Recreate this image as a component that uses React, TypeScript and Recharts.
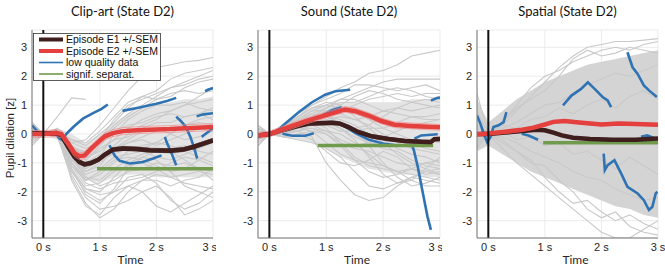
import { ComposedChart, Line, Area, XAxis, YAxis, CartesianGrid, ReferenceLine } from 'recharts';

// shared axes
const gridTimes = [-0.2, 0, 0.25, 0.5, 0.75, 1, 1.25, 1.5, 1.75, 2, 2.25, 2.5, 2.75, 3];
const timeTicks = [0, 1, 2, 3];
const timeTickLabels = ['0 s', '1 s', '2 s', '3 s'];
const valueTicks = [-3, -2, -1, 0, 1, 2, 3];
const titles = ['Clip-art (State D2)', 'Sound (State D2)', 'Spatial (State D2)'];
const legendLabels = ['Episode E1 +/-SEM', 'Episode E2 +/-SEM', 'low quality data', 'signif. separat.'];

type Pt = [number, number];

// ---- Clip-art ----
const clipCoreLow = [-0.2, -0.05, -0.2, -1.0, -1.6, -1.7, -1.5, -1.4, -1.4, -1.5, -1.5, -1.5, -1.5, -1.5];
const clipCoreHigh = [0.2, 0.05, 0.2, 0.0, -0.3, 0.0, 0.4, 0.7, 0.9, 1.0, 1.1, 1.2, 1.2, 1.3];
const clipGray: (number | null)[][] = [
  [0.3, 0, 0.05, -0.3, -0.2, 0.3, 0.9, 1.5, 2.0, 2.3, 2.4, 2.5, 2.55, 2.65],
  [-0.2, 0, 0.1, -0.5, -0.6, -0.2, 0.3, 0.7, 1.0, 1.3, 1.6, 1.8, 2.0, 2.2],
  [0.1, 0, 0.1, -0.8, -1.2, -0.9, -0.4, 0.0, 0.3, 0.5, 0.8, 1.0, 1.3, 1.6],
  [0.4, 0, 0.05, -1.2, -1.9, -2.0, -1.5, -1.0, -0.8, -0.9, -1.3, -1.8, -2.0, -2.2],
  [-0.4, 0, -0.1, -1.5, -2.4, -2.9, -2.6, -2.0, -1.6, -1.4, -1.5, -1.7, -1.8, -1.9],
  [0.2, 0, 0.0, -1.0, -1.6, -1.4, -1.0, -0.6, -0.4, -0.3, -0.4, -0.6, -0.8, -1.0],
  [-0.1, 0, 0.2, -0.4, -0.8, -0.6, -0.2, 0.2, 0.5, 0.7, 0.8, 1.0, 1.1, 1.2],
  [0.0, 0, 0.0, -1.3, -2.0, -2.3, -2.0, -1.5, -1.4, -1.7, -2.3, -2.6, -2.4, -2.0],
  [0.2, 0, 0.6, 1.25, 1.2, null, null, null, null, null, null, null, null, null],
  [-0.3, 0, -0.1, -0.7, -1.0, -0.7, -0.5, -0.3, -0.1, 0.1, 0.2, 0.3, 0.5, 0.6],
  [0.1, 0, 0.1, -0.9, -1.4, -1.2, -0.8, -0.7, -0.6, -0.8, -0.9, -0.7, -0.5, -0.3],
  [0.3, 0, -0.1, -1.1, -1.8, -1.7, -1.3, -1.1, -1.0, -1.2, -1.5, -1.4, -1.3, -1.4],
  [0.0, 0, 0.05, -0.6, -1.1, -0.8, 0.0, 0.5, 0.8, 1.0, 1.0, 1.1, 0.9, 0.8],
  [-0.2, 0, 0.0, -1.4, -2.2, -2.6, -2.5, -2.3, -2.0, -1.8, -2.2, -2.8, -2.6, -2.3],
  [0.1, 0, 0.1, -0.3, -0.5, -0.3, 0.2, 0.6, 0.9, 1.2, 1.4, 1.5, 1.4, 1.5],
  [0.2, 0, 0.0, -0.9, -1.3, -1.0, -0.6, -0.3, -0.2, -0.4, -0.2, 0.0, 0.2, 0.1],
  [-0.1, 0, 0.1, -0.5, -0.9, -0.5, -0.2, -0.1, 0.2, 0.4, 0.4, 0.6, 0.7, 0.9],
  [0.4, 0, 0.0, -1.0, -1.5, -1.8, -1.6, -1.3, -1.2, -1.0, -1.1, -1.0, -1.2, -1.6],
  [-0.3, 0, 0.1, -0.2, -0.4, 0.0, 0.4, 0.9, 1.3, 1.5, 1.9, 2.1, 2.2, 2.3],
  [0.0, 0, 0.0, -1.6, -2.5, -2.8, -2.2, -1.8, -2.0, -2.5, -2.7, -2.4, -2.1, -1.8],
  [0.1, 0, 0.0, -0.7, -1.3, -1.1, -0.5, -0.2, 0.1, 0.2, 0.0, -0.2, -0.1, 0.1],
  [-0.2, 0, 0.1, -1.0, -1.7, -1.9, -1.7, -1.6, -1.5, -1.3, -1.0, -0.8, -0.9, -1.1],
  [0.3, 0, 0.0, -0.2, -0.3, 0.1, 0.6, 1.1, 1.3, 1.2, 1.3, 1.6, 1.8, 1.9],
  [0.0, 0, 0.1, -0.8, -1.5, -1.6, -1.2, -0.9, -0.7, -0.5, -0.6, -0.9, -1.2, -1.3],
  [-0.1, 0, 0.0, -1.2, -2.1, -2.4, -1.9, -1.2, -0.8, -0.6, -0.5, -0.4, -0.6, -0.7],
  [0.2, 0, 0.1, -0.6, -0.9, -0.4, 0.1, 0.3, 0.4, 0.6, 0.7, 0.6, 0.7, 0.5],
  [-0.3, 0, -0.1, -1.3, -1.9, -2.1, -2.0, -1.8, -1.6, -1.6, -1.8, -1.6, -1.5, -1.2],
  [0.1, 0, 0.0, -0.4, -0.7, -0.2, 0.5, 1.0, 1.2, 1.4, 1.6, 1.7, 1.9, 2.0],
  [0.0, 0, -0.1, -0.9, -1.2, -0.9, -0.7, -0.5, -0.5, -0.3, 0.0, 0.3, 0.4, 0.3],
  [0.2, 0, 0.0, -1.1, -1.6, -1.3, -0.9, -0.8, -0.9, -1.1, -1.3, -1.2, -0.9, -0.6],
];
const clipE1Times = [-0.2, 0, 0.23, 0.32, 0.44, 0.55, 0.64, 0.73, 0.85, 0.97, 1.09, 1.23, 1.41, 1.65, 1.88, 2.24, 2.47, 2.65, 2.83, 3.0];
const clipE1 = [0.03, 0.01, 0.03, -0.05, -0.45, -0.79, -0.97, -1.05, -1.0, -0.89, -0.71, -0.54, -0.5, -0.52, -0.56, -0.58, -0.54, -0.45, -0.33, -0.22];
const clipE2Times = [-0.2, 0, 0.23, 0.32, 0.44, 0.55, 0.64, 0.73, 0.85, 0.97, 1.09, 1.23, 1.41, 1.65, 1.88, 2.24, 2.53, 3.0];
const clipE2 = [0.0, 0.0, 0.03, 0.0, -0.33, -0.66, -0.77, -0.74, -0.5, -0.28, -0.08, 0.03, 0.1, 0.13, 0.15, 0.17, 0.2, 0.24];
const clipSem = [0.07, 0.12];
const clipBlue: Pt[][] = [
  [[-0.2, 0.3], [-0.12, 0.13], [-0.04, -0.05]],
  [[0.2, 0.05], [0.28, -0.15], [0.33, -0.2], [0.41, 0.01], [0.53, 0.24], [0.7, 0.53], [0.88, 0.72], [1.03, 0.87], [1.14, 1.02]],
  [[1.4, 0.8], [1.7, 0.92], [2.0, 1.05], [2.2, 1.15], [2.35, 1.25]],
  [[2.86, 1.48], [2.91, 1.53], [3.0, 1.59]],
  [[2.71, 0.61], [2.83, 0.68], [3.0, 0.72]],
  [[1.17, -0.39], [1.26, -0.74], [1.35, -0.93], [1.53, -1.02], [1.76, -0.97], [1.94, -0.85], [2.09, -0.74]],
  [[2.15, -0.1], [2.18, -0.28], [2.27, -0.68], [2.35, -1.08]],
  [[2.35, 0.6], [2.43, 0.45], [2.52, 0.25], [2.6, -0.1], [2.67, -0.5], [2.72, -0.85]],
  [[2.8, -0.1], [2.9, 0.05], [3.0, 0.2]],
];
const clipSig = [0.95, 3.0, -1.2];

// ---- Sound ----
const soundCoreLow = [-0.2, -0.05, -0.1, -0.2, -0.3, -0.5, -0.8, -1.0, -1.2, -1.3, -1.4, -1.4, -1.5, -1.5];
const soundCoreHigh = [0.2, 0.05, 0.3, 0.6, 0.9, 1.0, 1.1, 1.1, 1.1, 1.1, 1.1, 1.2, 1.2, 1.2];
const soundGray: (number | null)[][] = [
  [0.2, 0, 0.3, 0.7, 1.0, 1.3, 1.6, 1.8, 2.1, 2.2, 2.4, 2.7, 2.8, 2.9],
  [-0.1, 0, 0.2, 0.5, 0.8, 1.0, 1.2, 1.4, 1.6, 1.8, 1.9, 1.9, 1.9, 1.9],
  [0.1, 0, 0.1, 0.3, 0.6, 0.7, 0.8, 1.0, 1.2, 1.3, 1.4, 1.3, 1.4, 1.4],
  [-0.3, 0, 0.0, 0.2, 0.3, 0.4, 0.3, 0.2, 0.3, 0.6, 0.9, 1.1, 1.0, 0.9],
  [0.3, 0, 0.2, 0.4, 0.5, 0.2, -0.3, -0.8, -1.1, -1.2, -1.3, -1.4, -1.5, -1.6],
  [-0.2, 0, -0.1, 0.0, -0.2, -0.6, -1.0, -1.1, -0.9, -0.6, -0.8, -1.2, -1.4, -1.3],
  [0.0, 0, 0.1, 0.1, -0.1, -1.0, -1.6, -2.1, -2.3, -2.2, -1.8, -1.5, -1.3, -1.2],
  [0.1, 0, 0.3, 0.6, 0.9, 1.1, 1.0, 0.6, 0.2, -0.2, -0.5, -0.7, -0.8, -1.0],
  [-0.2, 0, 0.2, 0.5, 0.7, 0.6, 0.4, 0.1, -0.4, -1.0, -1.5, -1.8, -1.7, -1.5],
  [0.1, 0, 0.0, 0.2, 0.4, 0.5, 0.6, 0.5, 0.3, 0.0, -0.3, -0.5, -0.6, -0.7],
  [-0.4, 0, 0.1, 0.4, 0.6, 0.9, 1.2, 1.2, 1.0, 0.8, 0.7, 0.6, 0.5, 0.5],
  [0.0, 0, -0.1, -0.2, -0.3, -0.5, -0.8, -1.3, -1.8, -1.9, -1.7, -1.5, -1.6, -1.7],
  [0.2, 0, 0.2, 0.4, 0.5, 0.7, 0.9, 0.8, 0.5, 0.2, 0.0, -0.2, -0.2, -0.3],
  [-0.1, 0, 0.1, 0.2, 0.2, 0.0, -0.3, -0.5, -0.6, -0.8, -1.0, -1.1, -1.0, -0.9],
  [0.3, 0, 0.2, 0.6, 1.0, 1.2, 1.4, 1.7, 1.7, 1.6, 1.5, 1.6, 1.7, 1.5],
  [-0.3, 0, 0.0, 0.1, 0.3, 0.4, 0.2, -0.2, -0.8, -1.4, -1.7, -1.6, -1.2, -0.8],
  [0.0, 0, 0.1, 0.3, 0.4, 0.3, 0.1, 0.1, 0.2, 0.2, 0.4, 0.6, 0.6, 0.7],
  [0.2, 0, 0.1, 0.2, 0.1, -0.3, -0.7, -0.9, -1.0, -1.1, -1.3, -1.6, -1.8, -1.8],
  [0.1, 0, 0.2, 0.4, 0.7, 0.9, 1.1, 1.1, 1.3, 1.5, 1.6, 1.5, 1.3, 1.2],
  [-0.2, 0, 0.1, 0.3, 0.5, 0.6, 0.4, 0.0, -0.3, -0.5, -0.6, -0.9, -1.1, -1.2],
  [0.2, 0, 0.0, 0.1, 0.2, 0.1, 0.0, -0.3, -0.7, -1.1, -1.3, -1.2, -1.0, -1.1],
  [-0.1, 0, 0.2, 0.5, 0.8, 0.8, 0.7, 0.5, 0.6, 0.8, 0.9, 0.8, 0.9, 1.0],
  [0.0, 0, 0.1, 0.3, 0.5, 0.4, 0.2, -0.1, -0.3, -0.4, -0.4, -0.3, -0.5, -0.6],
  [0.3, 0, 0.1, 0.2, 0.4, 0.6, 0.5, 0.3, 0.0, -0.3, -0.7, -1.0, -1.2, -1.4],
  [-0.4, 0, 0.2, 0.6, 0.9, 1.0, 0.9, 0.9, 0.7, 0.5, 0.3, 0.2, 0.2, 0.3],
  [0.1, 0, -0.1, 0.0, 0.1, 0.0, -0.4, -0.9, -1.3, -1.5, -1.4, -1.2, -1.3, -1.4],
  [0.0, 0, 0.2, 0.4, 0.6, 0.8, 1.0, 1.3, 1.5, 1.4, 1.2, 1.1, 1.2, 1.1],
  [-0.2, 0, 0.0, 0.2, 0.3, 0.1, -0.2, -0.4, -0.3, -0.1, 0.1, 0.3, 0.4, 0.5],
];
const soundE1Times = [-0.2, 0, 0.23, 0.46, 0.69, 0.87, 1.1, 1.24, 1.39, 1.56, 1.8, 2.09, 2.38, 2.67, 2.84, 2.9, 3.0];
const soundE1 = [-0.05, 0, 0.13, 0.26, 0.36, 0.37, 0.39, 0.36, 0.24, 0.07, -0.08, -0.17, -0.24, -0.27, -0.28, -0.18, -0.17];
const soundE2Times = [-0.2, 0, 0.34, 0.63, 0.92, 1.16, 1.33, 1.51, 1.74, 1.97, 2.2, 2.49, 2.78, 3.0];
const soundE2 = [-0.05, 0, 0.24, 0.44, 0.61, 0.75, 0.85, 0.79, 0.64, 0.45, 0.32, 0.28, 0.25, 0.23];
const soundSem = [0.06, 0.1];
const soundBlue: Pt[][] = [
  [[0.08, 0.03], [0.28, 0.36], [0.52, 0.76], [0.75, 1.1], [0.98, 1.36], [1.16, 1.48], [1.42, 1.53]],
  [[0.23, 0.01], [0.4, -0.06], [0.63, -0.06], [0.78, 0.03]],
  [[0.95, 0.66], [1.1, 0.82], [1.27, 0.93]],
  [[1.3, 0.3], [1.5, 0.05], [1.75, -0.2], [2.0, -0.33], [2.2, -0.38]],
  [[2.55, -0.16], [2.67, -0.05], [2.96, -0.01]],
  [[2.84, 1.16], [2.96, 1.25], [3.0, 1.26]],
  [[2.5, -0.35], [2.54, -0.56], [2.61, -1.14], [2.7, -2.06], [2.78, -2.86], [2.84, -3.32]],
];
const soundSig = [0.85, 2.88, -0.4];

// ---- Spatial ----
const spatialLow = [-0.6, -0.4, -0.7, -1.0, -1.3, -1.5, -1.7, -1.9, -2.1, -2.3, -2.5, -2.6, -2.8, -2.9];
const spatialHigh = [1.2, 0.4, 0.8, 1.2, 1.5, 1.8, 2.0, 2.2, 2.4, 2.5, 2.6, 2.7, 2.8, 2.9];
const spatialGray: (number | null)[][] = [
  [1.4, 0, 0.3, 0.8, 1.3, 1.8, 2.3, 2.7, 3.0, 3.1, 3.2, 3.2, 3.25, 3.3],
  [-0.5, 0, -0.5, -1.0, -1.4, -1.8, -2.2, -2.6, -3.0, -3.4, -3.6, -3.6, -3.3, -3.0],
  [0.8, 0, 0.4, 0.9, 1.2, 1.5, 2.0, 2.6, 2.9, 2.7, 2.8, 3.0, 2.9, 2.8],
  [-0.3, 0, -0.3, -0.6, -1.0, -1.1, -1.6, -2.0, -2.6, -2.9, -2.7, -3.2, -3.4, -3.5],
  [0.2, 0, 0.2, 0.4, 0.7, 1.0, 1.1, 1.4, 1.7, 1.9, 2.1, 2.0, 2.2, 2.4],
  [-0.2, 0, -0.1, -0.3, -0.6, -0.8, -1.0, -1.3, -1.5, -1.6, -1.9, -2.1, -2.3, -2.2],
  [0.5, 0, 0.3, 0.2, 0.5, 0.6, 0.9, 0.7, 1.0, 1.2, 0.9, 1.3, 1.5, 1.2],
  [-0.1, 0, 0.1, -0.2, -0.1, -0.4, -0.3, -0.7, -0.6, -0.9, -1.2, -0.8, -1.1, -1.4],
  [0.3, 0, -0.2, -0.6, -0.9, -1.5, -2.0, -2.4, -2.3, -2.7, -3.0, -2.8, -3.1, -3.3],
  [-0.4, 0, 0.4, 1.0, 1.6, 2.0, 2.2, 2.5, 2.7, 2.9, 3.0, 2.9, 3.1, 3.2],
];
const spatialE1Times = [-0.2, 0, 0.3, 0.6, 0.85, 1.0, 1.15, 1.3, 1.5, 1.8, 2.2, 2.6, 3.0];
const spatialE1 = [0.0, 0.0, 0.05, 0.1, 0.15, 0.13, 0.05, -0.05, -0.13, -0.17, -0.2, -0.2, -0.16];
const spatialE2Times = [-0.2, 0, 0.3, 0.6, 0.8, 1.0, 1.15, 1.35, 1.6, 2.0, 2.3, 2.6, 3.0];
const spatialE2 = [-0.02, 0.02, 0.08, 0.15, 0.22, 0.33, 0.42, 0.45, 0.4, 0.33, 0.36, 0.35, 0.32];
const spatialSem = [0.04, 0.05];
const spatialBlue: Pt[][] = [
  [[-0.2, 0.64], [-0.14, 0.36], [-0.08, 0.01], [-0.02, -0.28], [0.04, -0.1], [0.09, 0.24], [0.18, 0.3], [0.27, 0.41], [0.32, 0.76]],
  [[0.59, 0.01], [0.71, -0.05], [0.88, -0.2]],
  [[1.32, 0.99], [1.47, 1.33], [1.64, 1.56], [1.76, 1.79], [1.88, 1.56], [2.02, 1.28], [2.11, 1.16], [2.17, 0.93]],
  [[2.46, 2.83], [2.55, 2.31], [2.64, 2.08], [2.75, 1.68], [2.84, 1.51], [2.98, 1.28]],
  [[2.04, -0.68], [2.06, -1.25], [2.11, -1.08], [2.23, -0.91], [2.35, -1.37], [2.46, -1.83], [2.64, -2.06], [2.75, -2.29], [2.84, -2.63], [2.9, -2.52], [2.96, -2.06], [2.99, -2.0]],
  [[2.7, -0.1], [2.81, -0.05], [2.96, -0.16]],
];
const spatialSig = [0.97, 3.0, -0.3];

const C_DARK = '#3f1e1e';
const C_RED = '#e4403e';
const C_BLUE = '#3073b3';
const C_GREEN = '#709b4c';
const C_GRAY = '#c9c9c9';
const TICK_FONT = { fontSize: 11, fill: '#262626', fontFamily: 'Liberation Sans, Arial, sans-serif' };

const series = (times: number[], vals: (number | null)[]) => times.map((t, i) => ({ t, v: vals[i] }));
const pairs = (p: Pt[]) => p.map(([t, v]) => ({ t, v }));

interface PanelProps {
  left: number;
  width: number;
  yw: number;
  mr: number;
  gray: (number | null)[][];
  band: { low: number[]; high: number[]; fill: string };
  e1T: number[];
  e1: number[];
  e2T: number[];
  e2: number[];
  sem: number[];
  blue: Pt[][];
  sig: number[];
}

function Panel({ left, width, yw, mr, gray, band, e1T, e1, e2T, e2, sem, blue, sig }: PanelProps) {
  const bandData = gridTimes.map((t, i) => ({ t, band: [band.low[i], band.high[i]] }));
  const line = (key: string, data: any[], stroke: string, w: number) => (
    <Line
      key={key}
      data={data}
      dataKey="v"
      type="linear"
      stroke={stroke}
      strokeWidth={w}
      dot={false}
      activeDot={false}
      isAnimationActive={false}
      legendType="none"
    />
  );
  return (
    <div style={{ position: 'absolute', left, top: 0 }}>
      <ComposedChart width={width} height={269} margin={{ top: 30, right: mr, bottom: 11, left: 0 }}>
        <CartesianGrid stroke="#e6e6e6" strokeWidth={0.8} />
        <XAxis
          type="number"
          dataKey="t"
          domain={[-0.2, 3]}
          ticks={timeTicks}
          tickFormatter={(v: number) => timeTickLabels[timeTicks.indexOf(v)]}
          allowDataOverflow
          height={20}
          tickLine={false}
          tickSize={3}
          tickMargin={2}
          axisLine={{ stroke: '#777' }}
          tick={TICK_FONT}
        />
        <YAxis
          type="number"
          dataKey="v"
          domain={[-3.6, 3.6]}
          ticks={valueTicks}
          allowDataOverflow
          width={yw}
          tickLine={false}
          tickSize={3}
          tickMargin={2}
          axisLine={{ stroke: '#777' }}
          tick={TICK_FONT}
        />
        <Area
          data={bandData}
          dataKey="band"
          type="linear"
          fill={band.fill}
          fillOpacity={1}
          stroke="none"
          isAnimationActive={false}
          legendType="none"
        />
        {gray.map((g, i) => line(`g${i}`, series(gridTimes, g), C_GRAY, 1.1))}
        {blue.map((b, i) => line(`b${i}`, pairs(b), C_BLUE, 2.6))}
        {line('sig', series([sig[0], sig[1]], [sig[2], sig[2]]), C_GREEN, 3.5)}
        {line('e1u', series(e1T, e1.map((v) => v + sem[0])), '#5a3a3a', 0.7)}
        {line('e1l', series(e1T, e1.map((v) => v - sem[0])), '#5a3a3a', 0.7)}
        {line('e1', series(e1T, e1), C_DARK, 4.5)}
        {line('e2u', series(e2T, e2.map((v) => v + sem[1])), '#f08a88', 0.7)}
        {line('e2l', series(e2T, e2.map((v) => v - sem[1])), '#f08a88', 0.7)}
        {line('e2', series(e2T, e2), C_RED, 4.5)}
        <ReferenceLine x={0} stroke="#111" strokeWidth={2} />
      </ComposedChart>
    </div>
  );
}

const panelLayout = [
  { left: 0, width: 216, yw: 32, mr: 3 },
  { left: 220, width: 222, yw: 38, mr: 2 },
  { left: 440, width: 225, yw: 37, mr: 7 },
];

const legendColors = [C_DARK, C_RED, C_BLUE, C_GREEN];
const legendWidths = [4, 4, 1.6, 1.6];

export default function App() {
  const titleFont = 'Lato, "Open Sans", sans-serif';
  return (
    <div style={{ position: 'absolute', left: 0, top: 0, width: 665, height: 269, background: '#fff', overflow: 'hidden' }}>
      <Panel
        {...panelLayout[0]}
        gray={clipGray}
        band={{ low: clipCoreLow, high: clipCoreHigh, fill: '#e4e4e4' }}
        e1T={clipE1Times}
        e1={clipE1}
        e2T={clipE2Times}
        e2={clipE2}
        sem={clipSem}
        blue={clipBlue}
        sig={clipSig}
      />
      <Panel
        {...panelLayout[1]}
        gray={soundGray}
        band={{ low: soundCoreLow, high: soundCoreHigh, fill: '#e4e4e4' }}
        e1T={soundE1Times}
        e1={soundE1}
        e2T={soundE2Times}
        e2={soundE2}
        sem={soundSem}
        blue={soundBlue}
        sig={soundSig}
      />
      <Panel
        {...panelLayout[2]}
        gray={spatialGray}
        band={{ low: spatialLow, high: spatialHigh, fill: '#d4d4d4' }}
        e1T={spatialE1Times}
        e1={spatialE1}
        e2T={spatialE2Times}
        e2={spatialE2}
        sem={spatialSem}
        blue={spatialBlue}
        sig={spatialSig}
      />
      {panelLayout.map((p, i) => {
        const cx = p.left + p.yw + (p.width - p.yw - p.mr) / 2;
        return (
          <div key={i}>
            <div style={{ position: 'absolute', left: cx - 80, width: 160, top: 3, textAlign: 'center', fontFamily: titleFont, fontSize: 13, color: '#111' }}>
              {titles[i]}
            </div>
            <div style={{ position: 'absolute', left: cx + 8 - 30, width: 60, top: 252, textAlign: 'center', fontFamily: titleFont, fontSize: 12, color: '#262626' }}>
              Time
            </div>
          </div>
        );
      })}
      <div
        style={{
          position: 'absolute',
          left: 10,
          top: 138,
          transform: 'translate(-50%, -50%) rotate(-90deg)',
          whiteSpace: 'nowrap',
          fontFamily: 'Liberation Sans, Arial, sans-serif',
          fontSize: 11.5,
          color: '#262626',
        }}
      >
        Pupil dilation [z]
      </div>
      <svg style={{ position: 'absolute', left: 33, top: 33 }} width={128} height={48}>
        <rect x={0.5} y={0.5} width={127} height={47} fill="#fff" stroke="#333" strokeWidth={0.8} />
        {legendLabels.map((label, i) => {
          const y = 6.5 + i * 11.5;
          return (
            <g key={label}>
              <line x1={6} x2={30} y1={y} y2={y} stroke={legendColors[i]} strokeWidth={legendWidths[i]} />
              <text x={33} y={y + 3.6} fontSize={10.5} fontFamily="Liberation Sans, Arial, sans-serif" fill="#111">
                {label}
              </text>
            </g>
          );
        })}
      </svg>
    </div>
  );
}
